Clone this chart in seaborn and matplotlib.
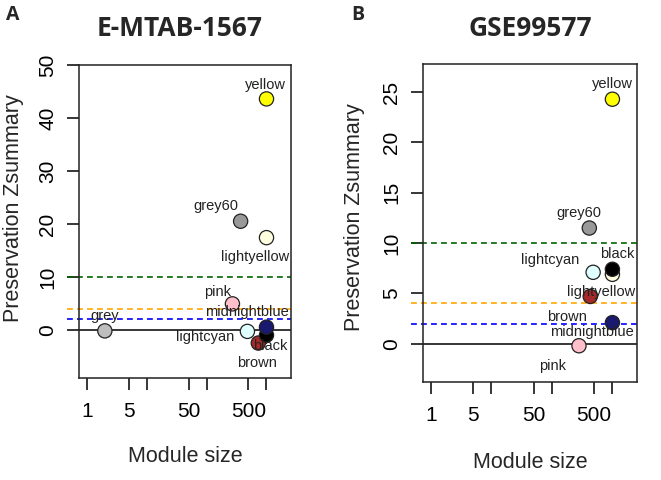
import matplotlib
matplotlib.use("Agg")
import matplotlib.pyplot as plt
import seaborn as sns
import pandas as pd
import numpy as np

# ---- data ----
modules_a = ["grey", "pink", "grey60", "lightcyan", "brown", "black", "midnightblue", "lightyellow", "yellow"]
size_a = [2, 270, 370, 480, 730, 1000, 1000, 1000, 1000]
z_a = [-0.2, 4.9, 20.5, -0.3, -2.5, -1.0, 0.5, 17.4, 43.6]

modules_b = ["pink", "grey60", "brown", "lightcyan", "midnightblue", "lightyellow", "black", "yellow"]
size_b = [280, 415, 430, 480, 1000, 1000, 1000, 1000]
z_b = [-0.2, 11.5, 4.7, 7.1, 2.1, 6.9, 7.4, 24.3]

thresholds = [2, 4, 10]
threshold_colors = ["blue", "orange", "darkgreen"]
xticks = [1, 5, 10, 50, 100, 500, 1000]
xticklabels = ["1", "5", "", "50", "", "500", ""]

palette = {
    "grey": "#BEBEBE", "pink": "#FFC0CB", "grey60": "#999999", "lightcyan": "#E0FFFF",
    "brown": "#A52A2A", "black": "#000000", "midnightblue": "#191970",
    "lightyellow": "#FFFFE0", "yellow": "#FFFF00",
}

# label offsets in pixels (style)
offs_a = {"yellow": (-1, 14), "grey60": (-25, 15), "lightyellow": (-11, -19), "pink": (-15, 12),
          "midnightblue": (-20, 15), "grey": (0, 15), "lightcyan": (-42, -6), "black": (4, -11),
          "brown": (-1, -20)}
offs_b = {"yellow": (0, 15), "grey60": (-10, 15), "lightcyan": (-43, 12), "black": (5, 15),
          "lightyellow": (-11, -18), "brown": (-23, -21), "midnightblue": (-20, -9), "pink": (-26, -20)}

sns.set_style("white")
plt.rcParams["font.family"] = ["Liberation Sans", "DejaVu Sans"]

fig = plt.figure(figsize=(6.61, 4.8), dpi=100)
axA = fig.add_axes([0.1195, 0.2125, 0.3205, 0.6521])
axB = fig.add_axes([0.640, 0.2042, 0.3237, 0.6625])


def panel(ax, mods, sizes, zs, offs, ylim, yticks, title, title_x, letter, letter_x, ylab_pos, xlab_y):
    df = pd.DataFrame({"module": mods, "size": sizes, "z": zs})
    for t, c in zip(thresholds, threshold_colors):
        ax.axhline(t, xmin=-0.055, xmax=1, color=c, ls=(0, (3.5, 2.5)), lw=1.2, clip_on=False, zorder=1)
    ax.axhline(0, color="black", lw=1.1, zorder=1)
    sns.scatterplot(data=df, x="size", y="z", hue="module", palette=palette, s=105,
                    edgecolor="#222222", linewidth=0.9, legend=False, ax=ax, zorder=3)
    for m, s, z in zip(mods, sizes, zs):
        dx, dy = offs[m]
        ax.annotate(m, (s, z), xytext=(dx * 0.72, dy * 0.72), textcoords="offset points",
                    ha="center", va="center", fontsize=10.5, color="#222222", zorder=4)
    ax.set_xscale("log")
    ax.set_xlim(0.74, 2550)
    ax.set_ylim(*ylim)
    ax.set_xticks(xticks)
    ax.set_xticklabels(xticklabels)
    ax.minorticks_off()
    ax.set_yticks(yticks)
    ax.set_yticklabels([str(v) for v in yticks], rotation=90, va="center")
    ax.tick_params(axis="both", direction="out", length=8.6, width=1.1, labelsize=15,
                   bottom=True, left=True, colors="black")
    ax.tick_params(axis="y", pad=7)
    ax.tick_params(axis="x", pad=9)
    for sp in ax.spines.values():
        sp.set_color("#222222")
        sp.set_linewidth(1.1)
    ax.set_xlabel("Module size", fontsize=15.5, va="center")
    ax.xaxis.set_label_coords(0.5, xlab_y)
    ax.set_ylabel("Preservation Zsummary", fontsize=15.5, va="center")
    ax.yaxis.set_label_coords(*ylab_pos)
    fig.text(title_x, 1 - 29 / 480, title, fontsize=19, fontweight="bold",
             family=["Open Sans", "DejaVu Sans"], ha="center", va="center")
    fig.text(letter_x, 0.968, letter, fontsize=14, fontweight="bold", family=["Open Sans", "DejaVu Sans"],
             ha="center", va="center")


panel(axA, modules_a, size_a, z_a, offs_a, (-9.1, 50), [0, 10, 20, 30, 40, 50],
      "E-MTAB-1567", 180 / 661, "A", 0.019, (-0.311, 0.543), -0.252)
panel(axB, modules_b, size_b, z_b, offs_b, (-3.8, 27.8), [0, 5, 10, 15, 20, 25],
      "GSE99577", 530 / 661, "B", 0.5416, (-0.318, 0.517), -0.252)

fig.savefig("out.png", dpi=100)
